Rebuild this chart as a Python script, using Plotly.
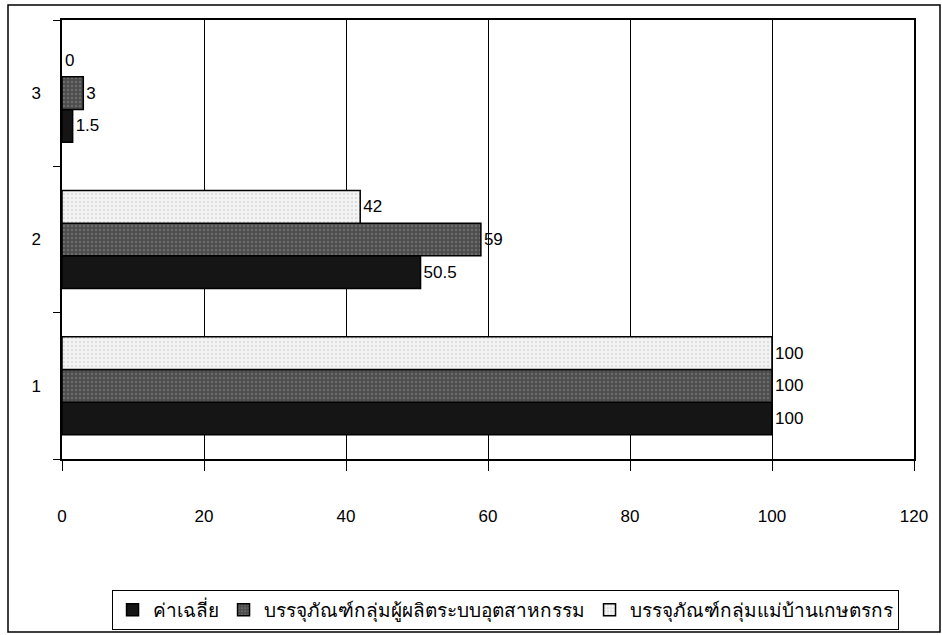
import plotly.graph_objects as go

categories = ["1", "2", "3"]
series_names = ["ค่าเฉลี่ย", "บรรจุภัณฑ์กลุ่มผู้ผลิตระบบอุตสาหกรรม", "บรรจุภัณฑ์กลุ่มแม่บ้านเกษตรกร"]
avg_vals = [100, 50.5, 1.5]
industry_vals = [100, 59, 3]
housewife_vals = [100, 42, 0]
x_ticks = [0, 20, 40, 60, 80, 100, 120]

W, H = 942, 635
ML, MR, MT, MB = 62, 28, 20, 176
pw, ph = W - ML - MR, H - MT - MB

FONT = "Liberation Sans, Arial, sans-serif"

def fmt(v):
    return f"{v:g}"

fig = go.Figure()
specs = [
    (series_names[0], avg_vals, "#151515", None, None),
    (series_names[1], industry_vals, "#4c4c4c", ".", "#8a8a8a"),
    (series_names[2], housewife_vals, "#f4f4f4", ".", "#c8c8c8"),
]
for name, vals, col, shp, fg in specs:
    marker = dict(color=col, line=dict(color="#000000", width=[0 if v == 0 else 1.5 for v in vals]))
    if shp:
        marker["pattern"] = dict(shape=shp, fgcolor=fg, bgcolor=col, size=4, solidity=0.3)
    fig.add_trace(go.Bar(
        y=categories, x=vals, name=name, orientation="h",
        marker=marker,
        text=[fmt(v) for v in vals], textposition="outside",
        textfont=dict(family=FONT, size=17, color="#000000"),
        cliponaxis=False,
    ))

fig.update_layout(
    width=W, height=H,
    margin=dict(l=ML, r=MR, t=MT, b=MB, autoexpand=False),
    paper_bgcolor="white", plot_bgcolor="white",
    barmode="group", bargap=0.33, bargroupgap=0,
    font=dict(family=FONT, size=17, color="#000000"),
    showlegend=True,
    legend=dict(
        orientation="h", x=0.52, xanchor="center", y=-0.298, yanchor="top",
        bordercolor="#000000", borderwidth=1, bgcolor="white",
        font=dict(family=FONT, size=19, color="#000000"),
        traceorder="normal", itemwidth=30,
    ),
    xaxis=dict(
        range=[0, 120], tickvals=x_ticks, ticktext=[str(t) for t in x_ticks],
        showgrid=True, gridcolor="#000000", gridwidth=1,
        showline=True, linecolor="#000000", linewidth=1.5, mirror=True,
        ticks="outside", ticklen=10, tickcolor="#000000",
        ticklabelstandoff=31, zeroline=False, automargin=False,
        tickfont=dict(family=FONT, size=17),
    ),
    yaxis=dict(
        type="category", categoryorder="array", categoryarray=categories,
        showline=True, linecolor="#000000", linewidth=1.5, mirror=True,
        ticks="outside", ticklen=7, tickcolor="#000000", tickson="boundaries",
        showgrid=False, ticklabelstandoff=16, automargin=False,
        tickfont=dict(family=FONT, size=17),
    ),
    shapes=[dict(
        type="rect", xref="paper", yref="paper",
        x0=(8 - ML) / pw, x1=(940 - ML) / pw,
        y0=(H - MB - 632) / ph, y1=(H - MB - 5) / ph,
        line=dict(color="#000000", width=1.5), fillcolor="rgba(0,0,0,0)", layer="below",
    )],
)

fig.write_html("out.html")
